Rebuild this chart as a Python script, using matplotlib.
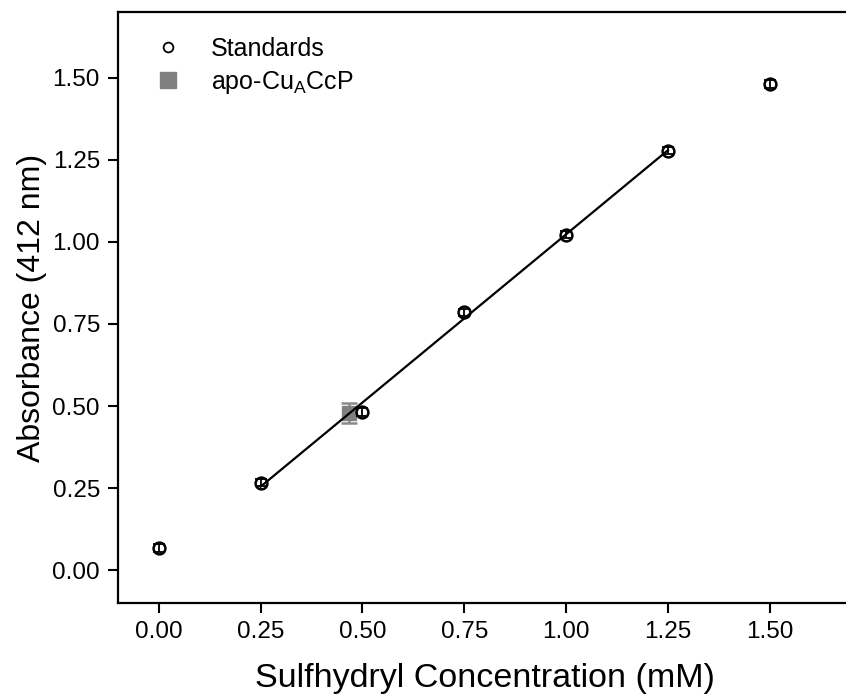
import numpy as np
import matplotlib
matplotlib.use("Agg")
import matplotlib.pyplot as plt
from matplotlib.lines import Line2D

plt.rcParams['font.family'] = ['Liberation Sans', 'DejaVu Sans']

# Ellman's assay standards
std_conc = [0.00, 0.25, 0.50, 0.75, 1.00, 1.25, 1.50]
std_abs = [0.068, 0.267, 0.482, 0.785, 1.022, 1.278, 1.482]
std_err = [0.012, 0.010, 0.012, 0.010, 0.010, 0.010, 0.012]

# Protein sample
apo_conc = [0.466]
apo_abs = [0.478]
apo_err = [0.030]

# Linear fit over the 0.25 - 1.25 mM standards
fit_lo, fit_hi = 1, 6

fig = plt.figure(figsize=(8.46, 6.96), dpi=100)
ax = fig.add_axes([0.1395, 0.1336, 0.8667, 0.8491])

x_fit = np.array(std_conc[fit_lo:fit_hi])
y_fit = np.array(std_abs[fit_lo:fit_hi])
slope, intercept = np.polyfit(x_fit, y_fit, 1)
xl = np.array([x_fit[0], x_fit[-1]])
ax.plot(xl, slope * xl + intercept, color='black', lw=1.6, zorder=5)

ax.errorbar(apo_conc, apo_abs, yerr=apo_err, fmt='s', color='#8a8a8a',
            mfc='#808080', mec='#808080', ms=10.5, capsize=6, elinewidth=1.8,
            capthick=1.8, zorder=2)

# open circles, then their error bars on top
ax.plot(std_conc, std_abs, ls='none', marker='o', mfc='white', mec='black',
        ms=8.5, mew=1.8, zorder=3)
ax.errorbar(std_conc, std_abs, yerr=std_err, fmt='none', ecolor='black',
            capsize=4, elinewidth=1.3, capthick=1.3, zorder=4)

ax.set_xlim(-0.1, 1.7)
ax.set_ylim(-0.1, 1.7)
ax.set_xticks([0, 0.25, 0.5, 0.75, 1.0, 1.25, 1.5])
ax.set_yticks([0, 0.25, 0.5, 0.75, 1.0, 1.25, 1.5])
ax.xaxis.set_major_formatter(matplotlib.ticker.FormatStrFormatter('%.2f'))
ax.yaxis.set_major_formatter(matplotlib.ticker.FormatStrFormatter('%.2f'))
ax.tick_params(direction='out', length=7, width=1.5, labelsize=17.5, pad=6)
for s in ax.spines.values():
    s.set_linewidth(1.6)

ax.set_xlabel('Sulfhydryl Concentration (mM)', fontsize=24.5, labelpad=14)
ax.set_ylabel('Absorbance (412 nm)', fontsize=23, labelpad=4)

handles = [
    Line2D([], [], ls='none', marker='o', mfc='white', mec='black', ms=7, mew=1.3),
    Line2D([], [], ls='none', marker='s', mfc='#808080', mec='#808080', ms=11),
]
ax.legend(handles, ['Standards', 'apo-Cu$_\\mathregular{A}$CcP'], loc='upper left',
          frameon=False, fontsize=18, handletextpad=0.7, borderaxespad=0.6,
          labelspacing=0.3)

fig.savefig('out.png', dpi=100)
